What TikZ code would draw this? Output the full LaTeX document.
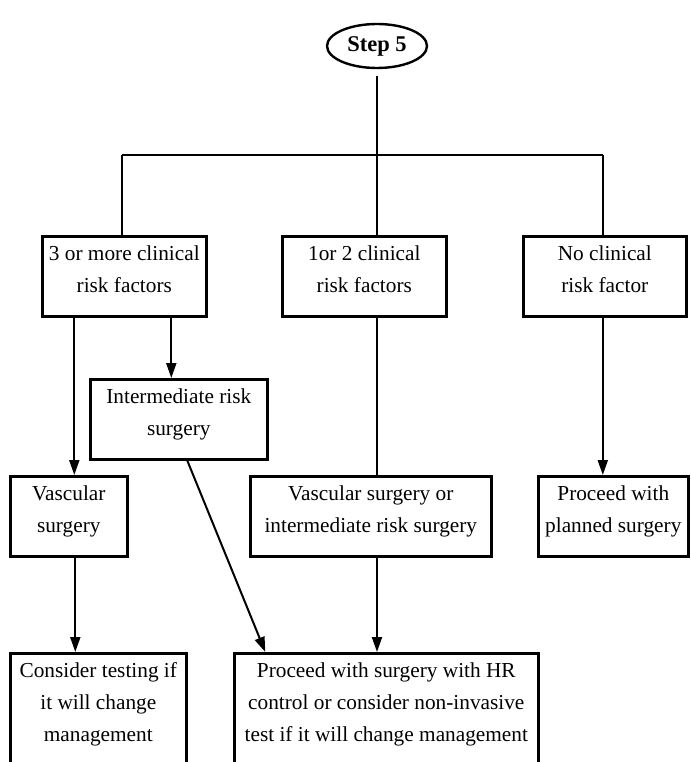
\documentclass[tikz,border=0pt]{standalone}
\usepackage{fontspec}
\setmainfont{Liberation Serif}
\usetikzlibrary{shapes.geometric,arrows.meta}
\begin{document}
\begin{tikzpicture}[x=1pt,y=-1pt,
  box/.style={draw, line width=2.6pt, anchor=north west, align=center,
    inner xsep=2pt, inner ysep=0pt, text height=46pt, text depth=13pt,
    font=\fontsize{21.3pt}{32pt}\selectfont},
  threeline/.style={text height=78pt},
  link/.style={line width=2pt},
  arr/.style={line width=2pt, -{Triangle[length=15pt,width=10pt]}}]
  \useasboundingbox (0,0) rectangle (690,762);
  \clip (0,0) rectangle (690,762);

  % start node
  \node[ellipse, draw, line width=2.4pt, minimum width=100pt, minimum height=44pt,
    inner sep=0pt, font=\fontsize{22.5pt}{27pt}\selectfont\bfseries]
    (step) at (377,46) {Step 5};

  % first level: number of clinical risk factors
  \node[box, minimum width=164pt, minimum height=80pt] (b1) at (41,235)
    {3 or more clinical\\risk factors};
  \node[box, minimum width=164pt, minimum height=80pt] (b2) at (281,235)
    {1or 2 clinical\\risk factors};
  \node[box, minimum width=163pt, minimum height=80pt] (b3) at (522,235)
    {No clinical\\risk factor};

  % surgery types
  \node[box, minimum width=177pt, minimum height=80pt] (inter) at (89,378)
    {Intermediate risk\\surgery};
  \node[box, minimum width=117pt, minimum height=80pt] (vasc) at (9,475)
    {Vascular\\surgery};
  \node[box, minimum width=241pt, minimum height=80pt] (vsir) at (249,475)
    {Vascular surgery or\\intermediate risk surgery};
  \node[box, minimum width=150pt, minimum height=80pt] (plan) at (537,475)
    {Proceed with\\planned surgery};

  % recommendations
  \node[box, threeline, minimum width=176pt, minimum height=112pt] (cons) at (9,652)
    {Consider testing if\\it will change\\management};
  \node[box, threeline, minimum width=304pt, minimum height=112pt] (big) at (233,652)
    {Proceed with surgery with HR\\control or consider non-invasive\\test if it will change management};

  % branching bus
  \coordinate (bus) at (377,155);
  \coordinate (busL) at ([xshift=-2pt]bus -| b1.north);
  \coordinate (busR) at ([xshift=-2pt]bus -| b3.north);
  \draw[link] ([yshift=-7pt]step.south) -- (bus);
  \draw[link] (busL) -- (busR);
  \draw[link] (busL) -- (busL |- b1.north);
  \draw[link] (bus) -- (bus |- b2.north);
  \draw[link] (busR) -- (busR |- b3.north);

  % connectors
  \draw[arr] ([xshift=-50pt]b1.south) -- ([xshift=-50pt]b1.south |- vasc.north);
  \draw[arr] ([xshift=47pt]b1.south) -- ([xshift=47pt]b1.south |- inter.north);
  \draw[link] (bus |- b2.south) -- (bus |- vsir.north);
  \draw[arr] ([xshift=-2pt]b3.south) -- ([xshift=-2pt]b3.south |- plan.north);
  \draw[arr] ([xshift=6.5pt]vasc.south) -- ([xshift=6.5pt]vasc.south |- cons.north);
  \draw[arr] ([xshift=8.5pt]inter.south) -- ([xshift=-121pt]big.north);
  \draw[arr] (bus |- vsir.south) -- (bus |- big.north);
\end{tikzpicture}
\end{document}
